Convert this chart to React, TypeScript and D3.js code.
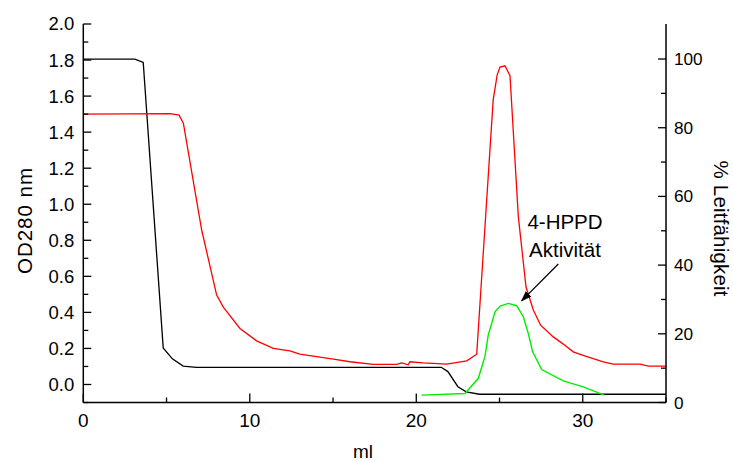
import React from "react";
import * as d3 from "d3";

// ---- data ----
// elution volume (ml) / OD280 (red trace)
const odX = [0, 5.21, 5.75, 6.01, 7.11, 8.01, 8.41, 9.41, 10.41, 11.41, 12.41, 13.01, 15.02, 16.02, 17.42, 18.82, 19.12, 19.52, 19.62, 20.42, 21.83, 23.03, 23.63, 24.62, 24.86, 25.03, 25.33, 25.63, 26.13, 26.59, 27.03, 27.47, 28.23, 28.83, 29.43, 30.03, 30.63, 31.23, 31.83, 33.44, 33.94, 35];
const odY = [1.5, 1.503, 1.494, 1.45, 0.857, 0.496, 0.429, 0.311, 0.242, 0.2, 0.187, 0.168, 0.141, 0.126, 0.111, 0.111, 0.12, 0.109, 0.126, 0.12, 0.113, 0.131, 0.168, 1.579, 1.718, 1.761, 1.768, 1.713, 0.931, 0.542, 0.413, 0.329, 0.264, 0.224, 0.181, 0.161, 0.144, 0.126, 0.113, 0.113, 0.102, 0.102];

// conductivity % (black trace, right axis)
const condX = [0, 3.1, 3.6, 4.8, 5.35, 6.0, 6.8, 21.5, 21.9, 22.5, 23.0, 23.8, 35];
const condY = [100, 100, 99.0, 15.9, 12.7, 10.6, 10.25, 10.25, 9.0, 4.6, 3.1, 2.4, 2.4];

// 4-HPPD activity (green trace, left-axis units)
const actX = [20.32, 22.92, 23.72, 24.13, 24.32, 24.73, 25.03, 25.53, 26.03, 26.43, 26.73, 26.99, 27.53, 28.83, 30.03, 31.29];
const actY = [-0.059, -0.05, 0.033, 0.157, 0.274, 0.403, 0.435, 0.45, 0.437, 0.376, 0.283, 0.181, 0.083, 0.02, -0.013, -0.059];

const xTicks = [0, 10, 20, 30];
const xMinor = [5, 15, 25, 35];
const yLeftTicks = [0, 0.2, 0.4, 0.6, 0.8, 1.0, 1.2, 1.4, 1.6, 1.8, 2.0];
const yLeftMinor = [-0.1, 0.1, 0.3, 0.5, 0.7, 0.9, 1.1, 1.3, 1.5, 1.7, 1.9];
const yRightTicks = [0, 20, 40, 60, 80, 100];
const yRightMinor = [10, 30, 50, 70, 90];

// annotation arrow (ml, OD)
const arrowFrom = [28.53, 0.668];
const arrowTo = [26.33, 0.464];

const W = 733, H = 462;
const L = 83.3, R = 666, T = 24, B = 402.5;
const FONT = "'Liberation Sans', Arial, sans-serif";

export default function App() {
  const x = d3.scaleLinear().domain([0, 35]).range([L, R]);
  const yL = d3.scaleLinear().domain([-0.1, 2.0]).range([B, T]);
  const yR = d3.scaleLinear().domain([0, 110.2]).range([B, T]);

  const mk = (xs: number[], ys: number[], ys2: (v: number) => number) =>
    d3.line<number>().x((_, i) => x(xs[i])).y((v) => ys2(v))(ys) || "";

  const redPath = mk(odX, odY, yL);
  const blackPath = mk(condX, condY, yR);
  const greenPath = mk(actX, actY, yL);

  return (
    <svg width={W} height={H} style={{ position: "absolute", left: 0, top: 0, background: "#fff" }} fontFamily={FONT}>
      <defs>
        <marker id="ah" markerWidth="11" markerHeight="8" refX="10" refY="4" orient="auto" markerUnits="userSpaceOnUse">
          <path d="M0,0 L11,4 L0,8 Z" fill="#000" />
        </marker>
      </defs>
      {/* lines */}
      <path d={blackPath} fill="none" stroke="#000" strokeWidth={1.3} />
      <path d={greenPath} fill="none" stroke="#00ee00" strokeWidth={1.4} />
      <path d={redPath} fill="none" stroke="#ff0000" strokeWidth={1.3} />

      {/* axes lines */}
      <line x1={L} y1={T} x2={L} y2={B} stroke="#000" strokeWidth={1.5} />
      <line x1={R} y1={T} x2={R} y2={B} stroke="#000" strokeWidth={1.5} />
      <line x1={L} y1={B} x2={R} y2={B} stroke="#000" strokeWidth={1.5} />

      {/* bottom ticks */}
      {xTicks.map((t) => (
        <g key={"xt" + t}>
          <line x1={x(t)} x2={x(t)} y1={B} y2={B - 9} stroke="#000" strokeWidth={1.3} />
          <text x={x(t)} y={B + 24.5} fontSize={19} textAnchor="middle">{t}</text>
        </g>
      ))}
      {xMinor.map((t) => (
        <line key={"xm" + t} x1={x(t)} x2={x(t)} y1={B} y2={B - 5} stroke="#000" strokeWidth={1.3} />
      ))}

      {/* left ticks */}
      {yLeftTicks.map((t) => (
        <g key={"yl" + t}>
          <line x1={L} x2={L + 8} y1={yL(t)} y2={yL(t)} stroke="#000" strokeWidth={1.3} />
          <text x={L - 9} y={yL(t)} dy="0.35em" fontSize={18.5} textAnchor="end">{t.toFixed(1)}</text>
        </g>
      ))}
      {yLeftMinor.map((t) => (
        <line key={"ylm" + t} x1={L} x2={L + 5} y1={yL(t)} y2={yL(t)} stroke="#000" strokeWidth={1.3} />
      ))}

      {/* right ticks */}
      {yRightTicks.map((t) => (
        <g key={"yr" + t}>
          <line x1={R} x2={R - 8} y1={yR(t)} y2={yR(t)} stroke="#000" strokeWidth={1.3} />
          <text x={R + 8} y={yR(t)} dy="0.35em" fontSize={17.2} textAnchor="start">{t}</text>
        </g>
      ))}
      {yRightMinor.map((t) => (
        <line key={"yrm" + t} x1={R} x2={R - 5} y1={yR(t)} y2={yR(t)} stroke="#000" strokeWidth={1.3} />
      ))}

      {/* axis titles */}
      <text transform={`translate(32,221) rotate(-90)`} fontSize={20.5} textAnchor="middle" textLength={106} lengthAdjust="spacing">OD280 nm</text>
      <text x={363} y={457.5} fontSize={19} textAnchor="middle">ml</text>
      <text transform={`translate(714,228.5) rotate(90)`} fontSize={20.5} textAnchor="middle" textLength={136} lengthAdjust="spacing">% Leitfähigkeit</text>

      {/* annotation */}
      <text x={565} y={229} fontSize={20.5} textAnchor="middle">4-HPPD</text>
      <text x={565} y={256.5} fontSize={20.5} textAnchor="middle">Aktivität</text>
      <line x1={x(arrowFrom[0])} y1={yL(arrowFrom[1])} x2={x(arrowTo[0])} y2={yL(arrowTo[1])} stroke="#000" strokeWidth={1.3} markerEnd="url(#ah)" />
    </svg>
  );
}
